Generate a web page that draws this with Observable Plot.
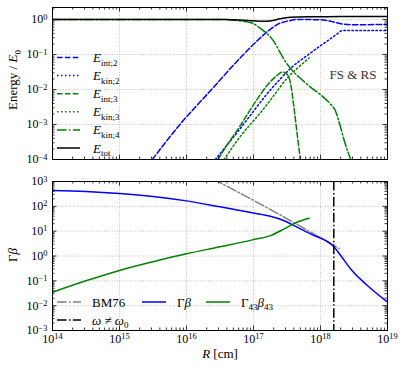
<!DOCTYPE html>
<html><head><meta charset="utf-8">
<script src="https://cdn.jsdelivr.net/npm/d3@7"></script>
<script src="https://cdn.jsdelivr.net/npm/@observablehq/plot@0.6"></script>
<style>
body{margin:0;background:#fff;}
#wrap{position:relative;width:407px;height:370px;font-family:"Liberation Serif",serif;}
#wrap > svg{position:absolute;left:0;}
</style></head><body><div id="wrap"></div>
<script>
// ---------- data (top panel: Energy / E0) ----------
const R_int2 = [3.09e15, 8.13e15, 2.29e16, 6.46e16, 1.148e17, 1.70e17, 2.40e17, 3.55e17, 4.47e17, 1e18, 1.41e18, 2.0e18, 2.82e18, 1e19];
const E_int2 = [1e-4, 1.047e-3, 9.33e-3, 0.0832, 0.251, 0.49, 0.759, 0.933, 1.0, 0.98, 0.891, 0.759, 0.708, 0.724];
const R_kin2 = [2.69e16, 3.98e16, 6.31e16, 1e17, 1.585e17, 2.51e17, 3.80e17, 6.31e17, 1e18, 1.41e18, 1.78e18, 2.09e18, 2.51e18, 1e19];
const E_kin2 = [1e-4, 2.51e-4, 7.59e-4, 2.4e-3, 7.41e-3, 0.02, 0.0447, 0.0933, 0.178, 0.282, 0.389, 0.479, 0.487, 0.487];
const R_int3 = [2.95e16, 3.98e16, 6.03e16, 1.07e17, 1.70e17, 2.24e17, 2.69e17, 3.16e17, 3.55e17, 3.98e17, 4.47e17, 5.01e17];
const E_int3 = [1e-4, 2.51e-4, 7.94e-4, 4.47e-3, 0.0151, 0.0251, 0.0316, 0.0275, 0.0158, 3.55e-3, 5.6e-4, 1e-4];
const R_kin3 = [3.63e16, 6.31e16, 1.35e17, 2.0e17, 3.16e17, 4.47e17, 6.76e17];
const E_kin3 = [1e-4, 4.47e-4, 2.51e-3, 6.6e-3, 0.0209, 0.0398, 0.0794];
const R_kin4 = [1e14, 3.16e16, 6.31e16, 1e17, 1.26e17, 1.58e17, 2e17, 2.51e17, 3.16e17, 3.98e17, 5.01e17, 7.08e17, 1e18, 1.41e18, 1.66e18, 1.91e18, 2.29e18, 2.82e18];
const E_kin4 = [1, 1, 0.91, 0.76, 0.56, 0.40, 0.24, 0.112, 0.054, 0.0316, 0.0209, 0.0117, 7.1e-3, 3.8e-3, 2.5e-3, 1.12e-3, 3.2e-4, 1e-4];
const R_tot = [1e14, 3.98e16, 7.94e16, 1.26e17, 1.78e17, 2.51e17, 3.55e17, 6.31e17, 2e18, 3.98e18, 1e19];
const E_tot = [1, 1, 0.93, 0.89, 0.91, 1.05, 1.15, 1.2, 1.21, 1.22, 1.22];

// ---------- data (bottom panel: Γβ) ----------
const R_gb = [1e14, 3.16e14, 1e15, 3.16e15, 1e16, 3.16e16, 1e17, 1.78e17, 2.82e17, 4.47e17, 7.08e17, 1.585e18, 2e18, 2.82e18, 5.01e18, 1e19];
const GB = [437, 398, 331, 251, 166, 95.5, 53.7, 39.8, 26.9, 14.5, 7.76, 2.34, 1.05, 0.302, 0.0646, 0.0138];
const R_g43 = [1e14, 3.16e14, 1e15, 3.16e15, 1e16, 3.16e16, 1e17, 1.78e17, 2.82e17, 4.47e17, 6.76e17];
const G43 = [0.0347, 0.1, 0.263, 0.589, 1.23, 2.34, 4.57, 6.61, 12.0, 22.9, 33.1];
const R_bm = [2.51e16, 2e17, 1.9e18];
const G_bm = [1259, 63, 2.0];
const R_omega = [1.58e18];

// ---------- axes ----------
const xDomain = [1e14, 1e19];
const yTopDomain = [1e-4, 2.2];
const yBotDomain = [1e-3, 1e3];
const xExps = [14, 15, 16, 17, 18, 19];
const yTopExps = [-4, -3, -2, -1, 0];
const yBotExps = [-3, -2, -1, 0, 1, 2, 3];

// styles
const BLUE = "#0000ff", GREEN = "#008000", GRAY = "#808080", BLACK = "#000000";
const DASH = "5.5,2.4", DOT = "1.5,2.5", DASHDOT = "9.6,2.4,1.5,2.4";

const W = 407, ML = 52, MR = 20;
const FW = W - ML - MR;

function zip(R, V) { return R.map((r, i) => ({R: r, v: V[i]})); }
function minors(exps, dom) {
  const out = [];
  for (let e = exps[0] - 1; e <= exps[exps.length - 1]; e++)
    for (let k = 2; k <= 9; k++) { const v = k * Math.pow(10, e); if (v > dom[0] && v < dom[1]) out.push(v); }
  return out;
}
const pow = e => Math.pow(10, e);
const fmt = d => "10^" + Math.round(Math.log10(d));

function frameTicks(xMaj, xMin, yMaj, yMin, FH) {
  const s = {stroke: "black", strokeWidth: 0.8};
  return [
    Plot.tickX(xMaj, {x: d => d, insetTop: FH - 4.5, ...s}),
    Plot.tickX(xMaj, {x: d => d, insetBottom: FH - 4.5, ...s}),
    Plot.tickX(xMin, {x: d => d, insetTop: FH - 2.5, ...s}),
    Plot.tickX(xMin, {x: d => d, insetBottom: FH - 2.5, ...s}),
    Plot.tickY(yMaj, {y: d => d, insetRight: FW - 4.5, ...s}),
    Plot.tickY(yMaj, {y: d => d, insetLeft: FW - 4.5, ...s}),
    Plot.tickY(yMin, {y: d => d, insetRight: FW - 2.5, ...s}),
    Plot.tickY(yMin, {y: d => d, insetLeft: FW - 2.5, ...s})
  ];
}
const gridStyle = {stroke: "#b0b0b0", strokeOpacity: 1, strokeWidth: 0.8, strokeDasharray: "1,1.6"};
const ln = (R, V, stroke, dash) => Plot.line(zip(R, V), {x: "R", y: "v", stroke, strokeWidth: 1.5, strokeDasharray: dash, curve: "monotone-x", clip: true});

const xMaj = xExps.map(pow), xMin = minors(xExps, xDomain);

// ---------- top plot ----------
const TOPH = 170, T_MT = 7, T_MB = 11;
const yTMaj = yTopExps.map(pow), yTMin = minors(yTopExps.concat([1]), yTopDomain);
const topPlot = Plot.plot({
  width: W, height: TOPH, marginTop: T_MT, marginBottom: T_MB, marginLeft: ML, marginRight: MR,
  style: {fontFamily: '"Liberation Serif", serif', fontSize: "12px", background: "transparent", color: "black"},
  x: {type: "log", domain: xDomain, axis: null},
  y: {type: "log", domain: yTopDomain, axis: null},
  marks: [
    Plot.gridX(xMaj.slice(1, -1), gridStyle),
    Plot.gridY(yTMaj.slice(1), gridStyle),
    ln(R_int2, E_int2, BLUE, DASH),
    ln(R_kin2, E_kin2, BLUE, DOT),
    ln(R_int3, E_int3, GREEN, DASH),
    ln(R_kin3, E_kin3, GREEN, DOT),
    ln(R_kin4, E_kin4, GREEN, DASHDOT),
    ln(R_tot, E_tot, BLACK, null),
    ...frameTicks(xMaj, xMin, yTMaj, yTMin, TOPH - T_MT - T_MB),
    Plot.frame({stroke: "black", strokeWidth: 1}),
    Plot.axisY(yTMaj, {anchor: "left", tickSize: 0, tickPadding: 5, tickFormat: fmt, label: null, fontSize: 12})
  ]
});
topPlot.style.top = "0px";

// ---------- bottom plot ----------
const BOTH = 200, B_MT = 11, B_MB = 40;
const yBMaj = yBotExps.map(pow), yBMin = minors(yBotExps, yBotDomain);
const botPlot = Plot.plot({
  width: W, height: BOTH, marginTop: B_MT, marginBottom: B_MB, marginLeft: ML, marginRight: MR,
  style: {fontFamily: '"Liberation Serif", serif', fontSize: "12px", background: "transparent", color: "black"},
  x: {type: "log", domain: xDomain},
  y: {type: "log", domain: yBotDomain},
  marks: [
    Plot.gridX(xMaj.slice(1, -1), gridStyle),
    Plot.gridY(yBMaj.slice(1, -1), gridStyle),
    ln(R_bm, G_bm, GRAY, DASHDOT),
    ln(R_gb, GB, BLUE, null),
    ln(R_g43, G43, GREEN, null),
    Plot.ruleX(R_omega, {x: d => d, stroke: BLACK, strokeWidth: 1.5, strokeDasharray: DASHDOT}),
    ...frameTicks(xMaj, xMin, yBMaj, yBMin, BOTH - B_MT - B_MB),
    Plot.frame({stroke: "black", strokeWidth: 1}),
    Plot.axisY(yBMaj, {anchor: "left", tickSize: 0, tickPadding: 5, tickFormat: fmt, label: null, fontSize: 12}),
    Plot.axisX(xMaj, {anchor: "bottom", tickSize: 0, tickPadding: 3.5, tickFormat: fmt, label: null, fontSize: 12})
  ]
});
botPlot.style.top = TOPH + "px";

const wrap = document.getElementById("wrap");
wrap.appendChild(topPlot);
wrap.appendChild(botPlot);

// superscript exponents in tick labels
function supify(svg) {
  d3.select(svg).selectAll("text").each(function () {
    const m = this.textContent.match(/^10\^(-?\d+)$/);
    if (!m) return;
    const el = d3.select(this);
    el.text(null);
    el.append("tspan").text("10");
    el.append("tspan").attr("dy", "-0.45em").attr("font-size", "0.7em").text(m[1].replace("-", "\u2212"));
  });
}
supify(topPlot); supify(botPlot);

// ---------- overlay: legends and titles ----------
const ov = d3.select(wrap).append("svg").attr("width", W).attr("height", 370)
  .style("position", "absolute").style("top", "0px").style("left", "0px")
  .style("font-family", '"Liberation Serif", serif').style("font-size", "13px");

function richText(g, x, y, parts, opts = {}) {
  const t = g.append("text").attr("x", x).attr("y", y).attr("fill", "black");
  if (opts.anchor) t.attr("text-anchor", opts.anchor);
  if (opts.transform) t.attr("transform", opts.transform);
  let shift = 0;
  parts.forEach(p => {
    const ts = t.append("tspan").text(p.t);
    const target = p.sub ? 0.3 : 0;
    const fs = p.sub ? 9 : 13;
    const dy = (target - shift) * (p.sub ? 13 : 13);
    if (dy !== 0) ts.attr("dy", dy);
    shift = target;
    if (p.sub) ts.attr("font-size", fs);
    if (p.it) ts.attr("font-style", "italic");
  });
  return t;
}

const topLegend = [
  {parts: [{t: "E", it: 1}, {t: "int;2", sub: 1}], color: BLUE, dash: DASH},
  {parts: [{t: "E", it: 1}, {t: "kin;2", sub: 1}], color: BLUE, dash: DOT},
  {parts: [{t: "E", it: 1}, {t: "int;3", sub: 1}], color: GREEN, dash: DASH},
  {parts: [{t: "E", it: 1}, {t: "kin;3", sub: 1}], color: GREEN, dash: DOT},
  {parts: [{t: "E", it: 1}, {t: "kin;4", sub: 1}], color: GREEN, dash: DASHDOT},
  {parts: [{t: "E", it: 1}, {t: "tot", sub: 1}], color: BLACK, dash: null}
];
topLegend.forEach((d, i) => {
  const y = 57.5 + 18.1 * i;
  ov.append("line").attr("x1", 57).attr("x2", 80).attr("y1", y).attr("y2", y)
    .attr("stroke", d.color).attr("stroke-width", 1.5).attr("stroke-dasharray", d.dash);
  richText(ov, 93, y + 4.5, d.parts);
});

const botLegend = [
  {x: 57, y: 302, parts: [{t: "BM76"}], color: GRAY, dash: DASHDOT},
  {x: 142, y: 302, parts: [{t: "Γ"}, {t: "β", it: 1}], color: BLUE, dash: null},
  {x: 206, y: 302, parts: [{t: "Γ"}, {t: "43", sub: 1}, {t: "β", it: 1}, {t: "43", sub: 1}], color: GREEN, dash: null},
  {x: 57, y: 320, parts: [{t: "ω", it: 1}, {t: " ≠ "}, {t: "ω", it: 1}, {t: "0", sub: 1}], color: BLACK, dash: DASHDOT}
];
botLegend.forEach(d => {
  ov.append("line").attr("x1", d.x).attr("x2", d.x + 24).attr("y1", d.y).attr("y2", d.y)
    .attr("stroke", d.color).attr("stroke-width", 1.5).attr("stroke-dasharray", d.dash);
  richText(ov, d.x + 35, d.y + 4.5, d.parts);
});

ov.append("text").attr("x", 353).attr("y", 79).attr("text-anchor", "middle")
  .attr("fill", "#333").text("FS & RS");

richText(ov, 0, 0, [{t: "Energy / "}, {t: "E", it: 1}, {t: "0", sub: 1}],
  {anchor: "middle", transform: "translate(17,80) rotate(-90)"});
richText(ov, 0, 0, [{t: "Γ"}, {t: "β", it: 1}],
  {anchor: "middle", transform: "translate(17,255) rotate(-90)"});
richText(ov, 220, 358, [{t: "R", it: 1}, {t: " [cm]"}], {anchor: "middle"});
</script></body></html>
